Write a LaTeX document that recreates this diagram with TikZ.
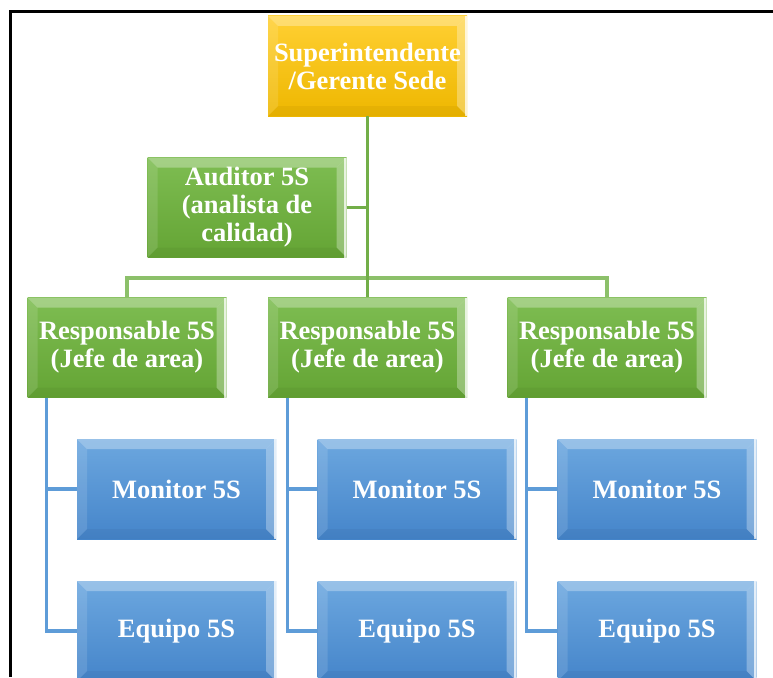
\documentclass[tikz,border=0pt]{standalone}
\usepackage{fontspec}
\setmainfont{Liberation Serif}
\begin{document}
\begin{tikzpicture}[x=1pt,y=-1pt,
  bevel/.style={path picture={
    \fill[white,opacity=0.30] (path picture bounding box.north west) -- (path picture bounding box.north east)
      -- ([xshift=-10pt,yshift=-10pt]path picture bounding box.north east) -- ([xshift=10pt,yshift=-10pt]path picture bounding box.north west) -- cycle;
    \fill[white,opacity=0.12] (path picture bounding box.north west) -- ([xshift=10pt,yshift=-10pt]path picture bounding box.north west)
      -- ([xshift=10pt,yshift=10pt]path picture bounding box.south west) -- (path picture bounding box.south west) -- cycle;
    \fill[white,opacity=0.30] (path picture bounding box.north east) -- ([xshift=-10pt,yshift=-10pt]path picture bounding box.north east)
      -- ([xshift=-10pt,yshift=10pt]path picture bounding box.south east) -- (path picture bounding box.south east) -- cycle;
    \fill[white,opacity=0.75] ([xshift=-2.5pt]path picture bounding box.north east) rectangle (path picture bounding box.south east);
    \fill[black,opacity=0.04] (path picture bounding box.south west) -- ([xshift=10pt,yshift=10pt]path picture bounding box.south west)
      -- ([xshift=-10pt,yshift=10pt]path picture bounding box.south east) -- (path picture bounding box.south east) -- cycle;
  }},
  orgbox/.style={rectangle, minimum width=199pt, minimum height=100pt, inner sep=0pt,
    text=white, align=center, font=\bfseries\fontsize{26.5}{28}\selectfont, bevel},
  yellowbox/.style={orgbox, top color=yellowtop, bottom color=yellowbot},
  greenbox/.style={orgbox, top color=greentop, bottom color=greenbot},
  bluebox/.style={orgbox, top color=bluetop, bottom color=bluebot},
  greenline/.style={draw=linegreen, line width=3.2pt},
  busline/.style={draw=busgreen, line width=3.2pt},
  blueline/.style={draw=lineblue, line width=3.2pt},
]
\definecolor{yellowtop}{HTML}{FFD033}
\definecolor{yellowbot}{HTML}{EEB700}
\definecolor{greentop}{HTML}{7EBD52}
\definecolor{greenbot}{HTML}{64A434}
\definecolor{bluetop}{HTML}{6CA7DF}
\definecolor{bluebot}{HTML}{4585CA}
\definecolor{linegreen}{HTML}{72AE48}
\definecolor{busgreen}{HTML}{8CC06A}
\definecolor{lineblue}{HTML}{5E9CD8}

\useasboundingbox (0,0) rectangle (773,677);

% outer frame
\draw[black, line width=3pt] (10,677) -- (10,12) -- (773,12);

% junction points of the green tree
\coordinate (bus) at (367.5,278);
\coordinate (trunk) at (367.5,207.5);

% boxes
\node[yellowbox] (sup) at (367.5,66) {Superintendente\\/Gerente Sede};
\node[greenbox] (aud) at (247,207.5) {Auditor 5S\\(analista de\\calidad)};

\node[greenbox] (r1) at (127,347.5) {Responsable 5S\\(Jefe de area)};
\node[greenbox] (r2) at (367.5,347.5) {Responsable 5S\\(Jefe de area)};
\node[greenbox] (r3) at (607,347.5) {Responsable 5S\\(Jefe de area)};

\node[bluebox] (m1) at (176.5,489) {Monitor 5S};
\node[bluebox] (m2) at (417,489) {Monitor 5S};
\node[bluebox] (m3) at (657,489) {Monitor 5S};

\node[bluebox] (e1) at (176.5,631) {Equipo 5S};
\node[bluebox] (e2) at (417,631) {Equipo 5S};
\node[bluebox] (e3) at (657,631) {Equipo 5S};

% green connectors
\path[busline] (r1.north) |- (bus) -| (r3.north);
\path[greenline] (aud.east) -- (trunk);
\path[greenline] (sup.south) -- (r2.north);

% blue connectors
\foreach \r/\m/\e in {r1/m1/e1, r2/m2/e2, r3/m3/e3}{
  \coordinate (s\r) at ([xshift=19.5pt]\r.south west);
  \path[blueline] (s\r) |- (\m.west);
  \path[blueline] (s\r) |- (\e.west);
}
\end{tikzpicture}
\end{document}
